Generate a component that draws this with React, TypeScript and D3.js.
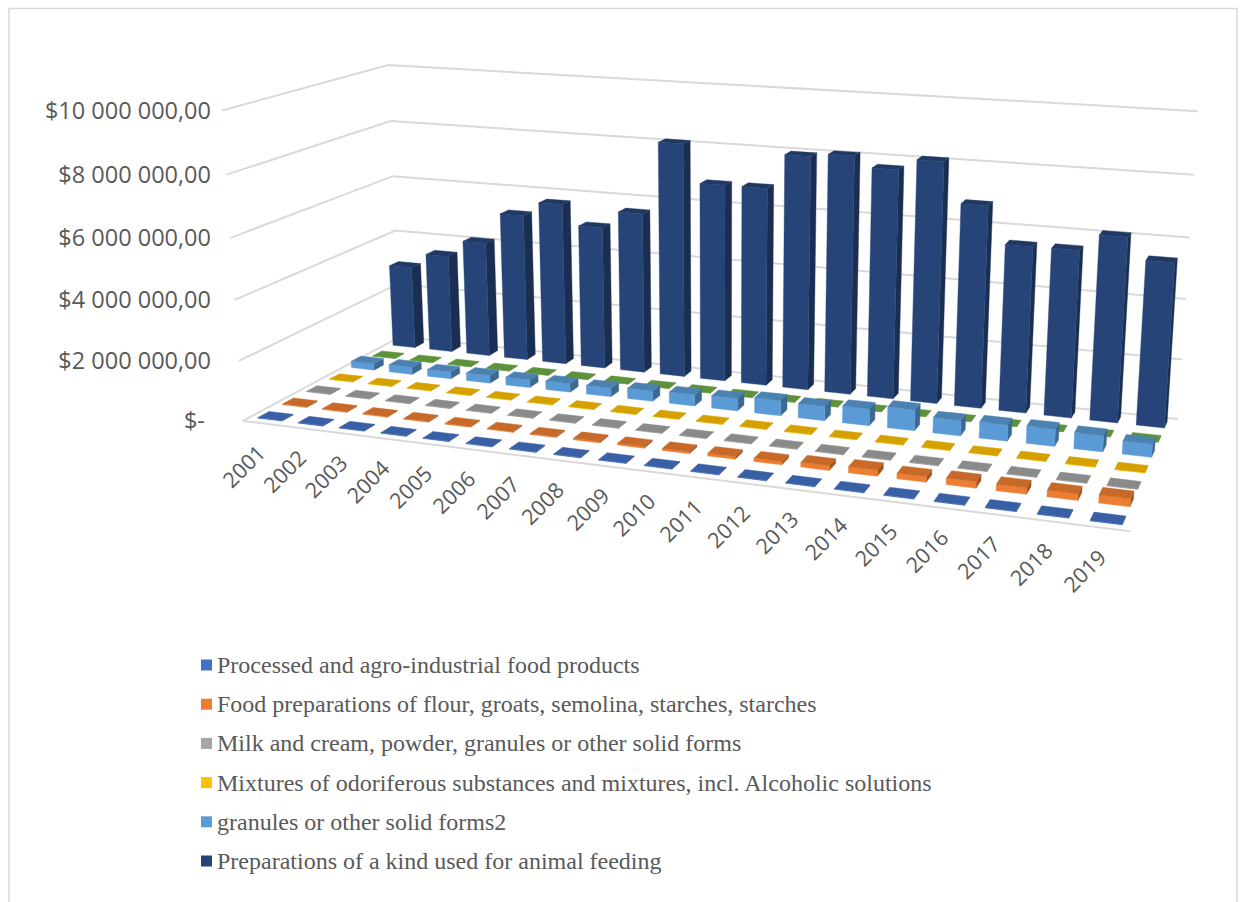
import React from 'react';
import * as d3 from 'd3';

const years = ['2001','2002','2003','2004','2005','2006','2007','2008','2009','2010','2011','2012','2013','2014','2015','2016','2017','2018','2019'];

// series rows, front to back
const seriesNames = [
  'Processed and agro-industrial food products',
  'Food preparations of flour, groats, semolina, starches, starches',
  'Milk and cream, powder, granules or other solid forms',
  'Mixtures of odoriferous substances and mixtures, incl. Alcoholic solutions',
  'granules or other solid forms2',
  'Series 6',
  'Preparations of a kind used for animal feeding',
];
const seriesColors = ['#4472C4', '#ED7D31', '#A5A5A5', '#FFC000', '#5B9BD5', '#70AD47', '#264478'];
const legendSeries = [0, 1, 2, 3, 4, 6];

const processed = [20000,20000,20000,20000,20000,20000,20000,20000,20000,20000,20000,20000,20000,20000,20000,20000,20000,20000,20000];
const foodPreparations = [30000,30000,30000,30000,30000,30000,30000,45000,55000,65000,85000,100000,150000,200000,170000,200000,200000,200000,240000];
const milkCream = [20000,20000,20000,20000,20000,20000,20000,20000,20000,20000,20000,20000,20000,20000,20000,20000,20000,20000,20000];
const mixtures = [15000,15000,15000,15000,15000,15000,15000,15000,15000,15000,15000,15000,15000,15000,15000,15000,15000,15000,15000];
const granules = [230000,260000,240000,270000,270000,300000,300000,360000,390000,420000,520000,480000,570000,700000,510000,540000,570000,530000,420000];
const series6 = [10000,10000,10000,10000,10000,10000,10000,10000,10000,10000,10000,10000,10000,10000,10000,10000,10000,10000,10000];
const animalFeeding = [2960000,3500000,4100000,5200000,5700000,5000000,5600000,8100000,6800000,6800000,7970000,8080000,7730000,8100000,6770000,5550000,5550000,6100000,5400000];

const seriesValues = [processed, foodPreparations, milkCream, mixtures, granules, series6, animalFeeding];

const yTicks = [0, 2000000, 4000000, 6000000, 8000000, 10000000];
const yTickLabels = ['$- ', '$2 000 000,00', '$4 000 000,00', '$6 000 000,00', '$8 000 000,00', '$10 000 000,00'];

// ---- layout: perspective camera fitted to the frame corners ----
// [X (category 0..1), Y (value 0..1), Z (depth 0 front..1 back), screenX, screenY]
const CALIB: number[][] = [
  [0, 0, 0, 243, 421], [0, 0.2, 0, 239, 361], [0, 0.4, 0, 234, 300], [0, 0.6, 0, 230, 237], [0, 0.8, 0, 227, 175], [0, 1, 0, 222, 111],
  [0, 0.6, 1, 393, 176], [0, 0.8, 1, 391, 121], [0, 1, 1, 388, 65],
  [1, 0, 1, 1178, 419], [1, 0.2, 1, 1182, 360], [1, 0.4, 1, 1186, 299], [1, 0.6, 1, 1189, 237], [1, 0.8, 1, 1194, 175], [1, 1, 1, 1198, 111],
  [1, 0, 0, 1131, 531],
];

function fitCamera(pts: number[][]) {
  const n = 11;
  const M = Array.from({ length: n }, () => new Array(n + 1).fill(0));
  const add = (row: number[], rhs: number) => {
    for (let i = 0; i < n; i++) {
      for (let j = 0; j < n; j++) M[i][j] += row[i] * row[j];
      M[i][n] += row[i] * rhs;
    }
  };
  for (const [X, Y, Z, u, v] of pts) {
    add([X, Y, Z, 1, 0, 0, 0, 0, -u * X, -u * Y, -u * Z], u);
    add([0, 0, 0, 0, X, Y, Z, 1, -v * X, -v * Y, -v * Z], v);
  }
  for (let c = 0; c < n; c++) {
    let p = c;
    for (let r = c + 1; r < n; r++) if (Math.abs(M[r][c]) > Math.abs(M[p][c])) p = r;
    [M[c], M[p]] = [M[p], M[c]];
    for (let r = 0; r < n; r++) {
      if (r === c) continue;
      const f = M[r][c] / M[c][c];
      for (let k = c; k <= n; k++) M[r][k] -= f * M[c][k];
    }
  }
  const P = M.map((row, i) => row[n] / row[i]);
  return (X: number, Y: number, Z: number): [number, number] => {
    const w = P[8] * X + P[9] * Y + P[10] * Z + 1;
    return [(P[0] * X + P[1] * Y + P[2] * Z + P[3]) / w, (P[4] * X + P[5] * Y + P[6] * Z + P[7]) / w];
  };
}

const proj = fitCamera(CALIB);

const xBand = d3.scaleBand<string>().domain(years).range([0, 1]).paddingInner(0.4).paddingOuter(0.2);
const zBand = d3.scaleBand<number>().domain(d3.range(seriesNames.length)).range([0, 1]).paddingInner(0.55).paddingOuter(0.275);
const yScale = d3.scaleLinear().domain([0, 10000000]).range([0, 1]);

const pathOf = (pts: [number, number][]) => 'M' + pts.map(p => p[0].toFixed(2) + ',' + p[1].toFixed(2)).join('L') + 'Z';

export default function App() {
  const grid: React.ReactNode[] = [];
  yTicks.forEach((t, k) => {
    const y = yScale(t);
    const a = proj(0, y, 0), b = proj(0, y, 1), c = proj(1, y, 1);
    grid.push(<polyline key={'g' + k} points={`${a[0]},${a[1]} ${b[0]},${b[1]} ${c[0]},${c[1]}`} fill="none" stroke="#D9D9D9" strokeWidth={2} />);
  });
  const f0 = proj(0, 0, 0), f1 = proj(1, 0, 0);
  grid.push(<line key="floorfront" x1={f0[0]} y1={f0[1]} x2={f1[0]} y2={f1[1]} stroke="#D9D9D9" strokeWidth={2} />);

  const bars: React.ReactNode[] = [];
  for (let j = seriesNames.length - 1; j >= 0; j--) {
    const base = d3.color(seriesColors[j])!;
    const front = base.formatHex();
    const top = base.darker(0.5).formatHex();
    const side = base.darker(1.1).formatHex();
    const Z0 = zBand(j)!, Z1 = Z0 + zBand.bandwidth();
    years.forEach((yr, i) => {
      const X0 = xBand(yr)!, X1 = X0 + xBand.bandwidth();
      const Y = yScale(seriesValues[j][i]);
      const fFace = [proj(X0, 0, Z0), proj(X1, 0, Z0), proj(X1, Y, Z0), proj(X0, Y, Z0)];
      const rFace = [proj(X1, 0, Z0), proj(X1, 0, Z1), proj(X1, Y, Z1), proj(X1, Y, Z0)];
      const tFace = [proj(X0, Y, Z0), proj(X1, Y, Z0), proj(X1, Y, Z1), proj(X0, Y, Z1)];
      bars.push(
        <g key={`b${j}-${i}`}>
          <path d={pathOf(rFace)} fill={side} stroke={side} strokeWidth={0.4} />
          <path d={pathOf(fFace)} fill={front} stroke={front} strokeWidth={0.4} />
          <path d={pathOf(tFace)} fill={top} stroke={top} strokeWidth={0.4} />
        </g>
      );
    });
  }

  const axisFont = "'Open Sans', sans-serif";
  const yLabels = yTicks.map((t, k) => {
    const p = proj(0, yScale(t), 0);
    return (
      <text key={'yl' + k} x={211} y={p[1]} dy="0.36em" textAnchor="end" fontFamily={axisFont} fontSize={23.5} fill="#595959" style={{ whiteSpace: 'pre' }}>
        {yTickLabels[k]}
      </text>
    );
  });

  const xLabels = years.map((yr, i) => {
    const xc = xBand(yr)! + xBand.bandwidth() / 2;
    const p = proj(xc, 0, 0);
    const ax = p[0] + 4, ay = p[1] + 31;
    return (
      <text key={'xl' + i} x={ax} y={ay} textAnchor="end" transform={`rotate(-45 ${ax} ${ay})`} fontFamily={axisFont} fontSize={21.5} fill="#595959">
        {yr}
      </text>
    );
  });

  const legend = legendSeries.map((s, k) => {
    const cy = 665 + k * 39.2;
    return (
      <g key={'lg' + k}>
        <rect x={201} y={cy - 5.5} width={11} height={11} fill={seriesColors[s]} />
        <text x={217} y={cy + 8} fontFamily="'Liberation Serif', 'Times New Roman', serif" fontSize={24} fill="#595959">
          {seriesNames[s]}
        </text>
      </g>
    );
  });

  return (
    <svg width={1240} height={902} style={{ position: 'absolute', left: 0, top: 0, background: '#fff' }}>
      <rect x={0} y={0} width={1240} height={902} fill="#fff" />
      <rect x={9} y={8.5} width={1228} height={900} fill="none" stroke="#D9D9D9" strokeWidth={1.5} />
      {grid}
      {bars}
      {yLabels}
      {xLabels}
      {legend}
    </svg>
  );
}
